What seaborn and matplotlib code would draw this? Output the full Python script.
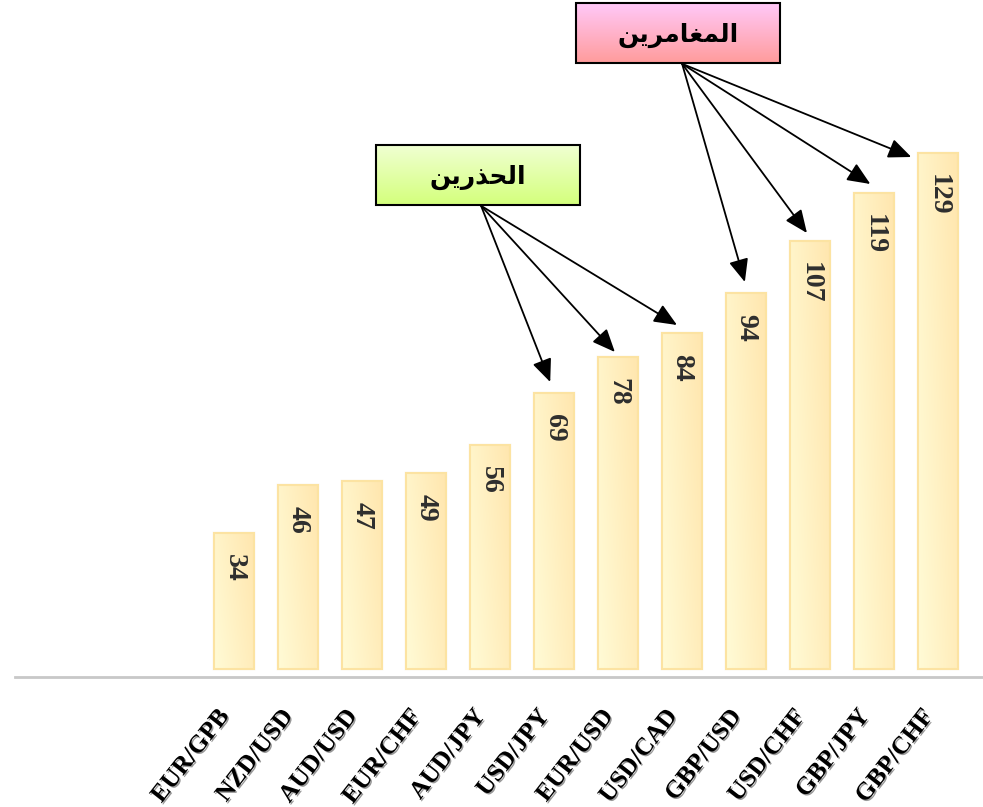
import numpy as np
import matplotlib
matplotlib.use("Agg")
import matplotlib.pyplot as plt
import matplotlib.patheffects as pe
from matplotlib.colors import LinearSegmentedColormap
from matplotlib.patches import Rectangle
import seaborn as sns

# Data
pairs = ["EUR/GPB", "NZD/USD", "AUD/USD", "EUR/CHF", "AUD/JPY", "USD/JPY",
         "EUR/USD", "USD/CAD", "GBP/USD", "USD/CHF", "GBP/JPY", "GBP/CHF"]
values = [34, 46, 47, 49, 56, 69, 78, 84, 94, 107, 119, 129]

# group labels (Arabic, written in presentation forms in visual order,
# since matplotlib does no Arabic shaping)
risky_label = "\uFEE6\uFEF3\uFEAE\uFEE3\uFE8E\uFED0\uFEE4\uFEDF\uFE8D"     # المغامرين
cautious_label = "\uFEE6\uFEF3\uFEAD\uFEAC\uFEA4\uFEDF\uFE8D"              # الحذرين
risky_idx = [8, 9, 10, 11]
cautious_idx = [5, 6, 7]

sns.set_style("white")
serif = ["Liberation Serif", "DejaVu Serif"]

fig = plt.figure(figsize=(9.83, 8.07), dpi=100)
ax = fig.add_axes([15 / 983, 130 / 807, 968 / 983, 677 / 807])

sns.barplot(x=pairs, y=values, ax=ax, color="#FFF3C4", width=0.625,
            edgecolor="#FCE3A2", linewidth=1.5, saturation=1)

# gradient fill for bars
bar_cmap = LinearSegmentedColormap.from_list("bar", ["#FFFBD6", "#FFE6AE"])
grad = np.add.outer(np.linspace(0.3, 0, 50), np.linspace(0, 0.7, 50))
for p in list(ax.patches):
    x0, y0 = p.get_x(), p.get_y()
    w, h = p.get_width(), p.get_height()
    im = ax.imshow(grad, extent=[x0, x0 + w, y0, y0 + h], cmap=bar_cmap,
                   aspect="auto", origin="upper", zorder=p.get_zorder() + 0.1,
                   vmin=0, vmax=1)
    im.set_clip_path(p)
    edge = Rectangle((x0, y0), w, h, fill=False, edgecolor="#FCE3A2", lw=1.5,
                     zorder=p.get_zorder() + 0.2)
    ax.add_patch(edge)

ax.set_xlim(-3.42, 11.70)
ax.set_ylim(-2, 167.25)

# value labels
for i, v in enumerate(values):
    ax.text(i, v - 5.2, str(v), rotation=-90, ha="center", va="top",
            fontsize=20, fontweight="bold", family=serif, color="#2E2E2E",
            zorder=5)

# axes styling
for s in ["top", "right", "left"]:
    ax.spines[s].set_visible(False)
ax.spines["bottom"].set_color("#C8C8C8")
ax.spines["bottom"].set_linewidth(2)
ax.set_yticks([])
ax.tick_params(axis="x", length=0, pad=20)
ax.set_xticks(range(len(pairs)))
ax.set_xticklabels(pairs, rotation=52, ha="right", fontsize=18,
                   fontweight="bold", family=serif, color="black")
for t in ax.get_xticklabels():
    t.set_path_effects([pe.withSimplePatchShadow(offset=(1, -1),
                                                 shadow_rgbFace="#555555",
                                                 alpha=0.6)])


def label_box(x0, x1, y0, y1, text, top_color, bottom_color):
    cmap = LinearSegmentedColormap.from_list("box", [top_color, bottom_color])
    g = np.linspace(0, 1, 64).reshape(-1, 1)
    ax.imshow(g, extent=[x0, x1, y0, y1], cmap=cmap, aspect="auto",
              origin="upper", zorder=6)
    ax.add_patch(Rectangle((x0, y0), x1 - x0, y1 - y0, fill=False,
                           edgecolor="black", lw=1.5, zorder=7,
                           clip_on=False))
    ax.text((x0 + x1) / 2, (y0 + y1) / 2 - 0.7, text, ha="center",
            va="center", fontsize=18, fontweight="bold", color="black",
            family=["DejaVu Sans"], zorder=8)


def arrows(start, targets):
    for tx, ty in targets:
        ax.annotate("", xy=(tx, ty), xytext=start, zorder=9,
                    arrowprops=dict(arrowstyle="-|>,head_length=0.7,head_width=0.3",
                                    mutation_scale=20, color="black", lw=1.3,
                                    shrinkA=0, shrinkB=0))


# risky group box (pink)
label_box(5.34, 8.53, 151.5, 166.5, risky_label, "#FFC8F8", "#FF9C9C")
risky_offsets = [(-0.02, 2.75), (-0.05, 2.0), (-0.06, 2.25), (-0.42, -1.0)]
arrows((7.0, 151.3), [(i + dx, values[i] + dy)
                      for i, (dx, dy) in zip(risky_idx, risky_offsets)])

# cautious group box (green)
label_box(2.22, 5.41, 116.0, 131.0, cautious_label, "#F0FFD2", "#D4FF7C")
cautious_offsets = [(-0.06, 2.75), (-0.05, 1.25), (-0.08, 2.0)]
arrows((3.86, 115.8), [(i + dx, values[i] + dy)
                       for i, (dx, dy) in zip(cautious_idx, cautious_offsets)])

fig.savefig("out.png", dpi=100)
